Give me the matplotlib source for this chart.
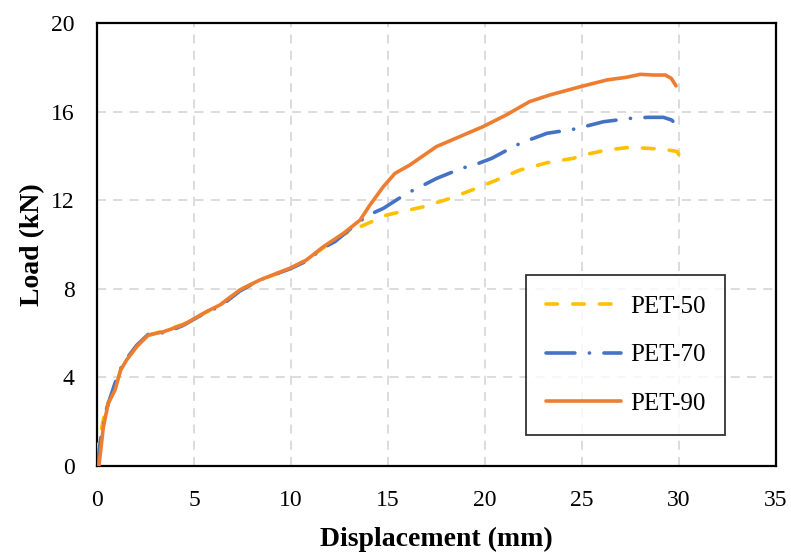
import matplotlib.pyplot as plt

# Load-displacement curves
pet50_x = [0.0, 0.15, 0.41, 0.6, 0.93, 1.22, 1.53, 2.05, 2.65, 3.42, 4.45, 5.65, 6.34, 7.37,
           8.4, 9.95, 10.8, 11.67, 12.7, 13.56, 14.16, 14.93, 16.82, 18.2, 19.57, 20.6, 21.8,
           23.2, 24.55, 25.07, 26.3, 27.3, 28.0, 29.2, 29.9, 30.05]
pet50_y = [0.5, 1.32, 2.45, 2.9, 3.5, 4.35, 4.8, 5.4, 5.9, 6.1, 6.4, 6.95, 7.25, 7.95,
           8.4, 8.9, 9.3, 9.85, 10.45, 10.8, 11.03, 11.33, 11.7, 12.08, 12.54, 12.91, 13.36,
           13.69, 13.89, 14.04, 14.27, 14.37, 14.36, 14.3, 14.2, 13.96]

pet70_x = [0.0, 0.24, 0.5, 0.93, 1.22, 1.53, 2.05, 2.65, 3.0, 3.5, 4.45, 5.65, 6.34, 7.37,
           8.4, 9.95, 10.8, 11.67, 12.27, 13.3, 14.0, 14.76, 15.96, 16.74, 17.5, 18.8, 19.57,
           20.35, 21.63, 22.4, 23.2, 24.55, 25.3, 26.1, 27.56, 28.4, 29.2, 29.62, 29.93]
pet70_y = [0.0, 1.5, 2.6, 3.74, 4.4, 4.85, 5.45, 5.95, 6.05, 6.0, 6.35, 6.95, 7.2, 7.9,
           8.4, 8.9, 9.25, 9.85, 10.13, 10.88, 11.33, 11.63, 12.3, 12.64, 12.98, 13.44, 13.63,
           13.89, 14.49, 14.76, 15.02, 15.2, 15.36, 15.54, 15.7, 15.74, 15.74, 15.62, 15.35]

pet90_x = [0.1, 0.33, 0.58, 0.93, 1.22, 1.53, 2.05, 2.65, 3.42, 4.45, 5.65, 6.34, 7.37, 8.4,
           9.95, 10.8, 11.67, 12.7, 13.56, 14.07, 14.76, 15.36, 16.13, 17.5, 18.7, 19.9, 21.1,
           22.3, 23.35, 24.9, 26.3, 27.3, 28.0, 28.7, 29.3, 29.6, 29.85]
pet90_y = [0.0, 1.77, 2.83, 3.43, 4.33, 4.79, 5.39, 5.91, 6.06, 6.37, 6.97, 7.27, 7.95, 8.4,
           8.93, 9.3, 9.9, 10.5, 11.1, 11.78, 12.61, 13.21, 13.59, 14.42, 14.87, 15.32, 15.85,
           16.45, 16.75, 17.12, 17.43, 17.55, 17.68, 17.65, 17.65, 17.5, 17.16]

x_ticks = [0, 5, 10, 15, 20, 25, 30, 35]
y_ticks = [0, 4, 8, 12, 16, 20]

plt.rcParams['font.family'] = ['Liberation Serif', 'DejaVu Serif']

fig = plt.figure(figsize=(7.91, 5.59), dpi=100)
ax = fig.add_axes([0.1226, 0.1664, 0.8584, 0.7925])

ax.plot(pet50_x, pet50_y, color='#FFC000', lw=2.6, dash_capstyle='round',
        linestyle=(0, (3.2, 4.2)), label='PET-50', zorder=3)
ax.plot(pet70_x, pet70_y, color='#4472C4', lw=2.6, dash_capstyle='round',
        linestyle=(0, (8, 4, 0.05, 4)), label='PET-70', zorder=3)
ax.plot(pet90_x, pet90_y, color='#ED7D31', lw=2.6, solid_capstyle='round',
        label='PET-90', zorder=4)

ax.set_xlim(0, 35)
ax.set_ylim(0, 20)
ax.set_xticks(x_ticks)
ax.set_yticks(y_ticks)
ax.tick_params(length=0, labelsize=17, pad=17)
ax.tick_params(axis='y', pad=16)
ax.grid(True, color='#D9D9D9', linestyle=(0, (5, 4)), lw=1.3)
for s in ax.spines.values():
    s.set_linewidth(1.6)
    s.set_color('black')

ax.set_xlabel('Displacement (mm)', fontsize=20, fontweight='bold', labelpad=12)
ax.set_ylabel('Load (kN)', fontsize=20, fontweight='bold', labelpad=4)

leg = ax.legend(loc='upper left', bbox_to_anchor=(0.632, 0.431), fontsize=18,
                frameon=True, fancybox=False, edgecolor='black', handlelength=3.0,
                labelspacing=1.05, borderpad=0.8, handletextpad=0.35, borderaxespad=0)
leg.get_frame().set_linewidth(1.3)

fig.savefig('out.png', dpi=100)
